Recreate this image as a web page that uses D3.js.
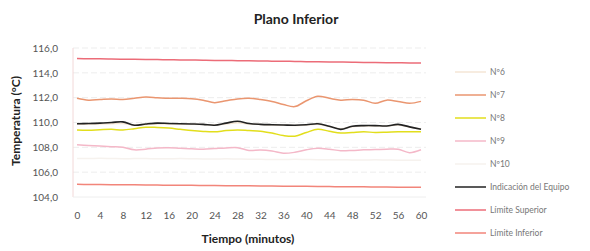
<!DOCTYPE html>
<html>
<head>
<meta charset="utf-8">
<script src="https://cdn.jsdelivr.net/npm/d3@7"></script>
<style>
  body { margin: 0; background: #fff; }
  text { font-family: Lato, "Open Sans", sans-serif; }
</style>
</head>
<body>
<div id="grafico"></div>
<script>
// minutos, cada 2
var minutos = d3.range(0, 61, 2);
var ticksX = [0, 4, 8, 12, 16, 20, 24, 28, 32, 36, 40, 44, 48, 52, 56, 60];
var ticksY = [104, 106, 108, 110, 112, 114, 116];

var n6 = [109.85,109.86,109.88,109.90,109.92,109.80,109.84,109.88,109.88,109.86,109.85,109.83,109.80,109.88,109.98,109.88,109.84,109.80,109.78,109.76,109.80,109.85,109.68,109.50,109.66,109.72,109.72,109.70,109.80,109.62,109.48];
var n7 = [111.95,111.80,111.85,111.90,111.85,111.95,112.05,112.00,111.95,111.95,111.92,111.80,111.60,111.75,111.90,111.95,111.85,111.70,111.45,111.28,111.75,112.12,111.95,111.80,111.85,111.80,111.55,111.80,111.70,111.55,111.70];
var n8 = [109.40,109.38,109.42,109.45,109.40,109.50,109.62,109.60,109.55,109.45,109.35,109.28,109.25,109.35,109.40,109.35,109.30,109.15,108.95,108.90,109.20,109.45,109.30,109.15,109.20,109.25,109.20,109.22,109.25,109.25,109.25];
var n9 = [108.20,108.15,108.10,108.05,108.00,107.80,107.85,107.95,107.97,107.92,107.88,107.85,107.90,107.95,107.97,107.75,107.78,107.70,107.52,107.60,107.80,107.92,107.85,107.73,107.75,107.80,107.82,107.85,107.85,107.57,107.80];
var n10 = [107.10,107.10,107.12,107.10,107.08,107.10,107.10,107.08,107.08,107.10,107.08,107.06,107.06,107.08,107.06,107.04,107.04,107.02,107.02,107.04,107.02,107.00,107.00,107.00,106.98,106.98,107.00,106.98,106.96,106.96,106.96];
var indicacion = [109.90,109.92,109.95,110.00,110.05,109.78,109.88,109.95,109.92,109.90,109.88,109.85,109.78,109.95,110.10,109.92,109.85,109.82,109.80,109.78,109.82,109.90,109.70,109.45,109.70,109.75,109.75,109.72,109.85,109.65,109.45];
var limSup = [115.15,115.14,115.13,115.12,115.10,115.09,115.08,115.07,115.05,115.04,115.03,115.02,115.00,114.99,114.98,114.97,114.95,114.94,114.93,114.92,114.90,114.89,114.88,114.87,114.85,114.84,114.83,114.82,114.81,114.80,114.80];
var limInf = [105.02,105.01,105.00,104.99,104.98,104.98,104.97,104.96,104.95,104.94,104.94,104.93,104.92,104.91,104.90,104.90,104.89,104.88,104.87,104.86,104.86,104.85,104.84,104.83,104.82,104.82,104.81,104.80,104.79,104.78,104.78];

var nombres = ["Nº6", "Nº7", "Nº8", "Nº9", "Nº10", "Indicación del Equipo", "Límite Superior", "Límite Inferior"];
var colores = ["#f4e6d6", "#ea9670", "#e2de1c", "#f4b8c8", "#f6f2ee", "#222222", "#ec6c78", "#f2857a"];
var valores = [n6, n7, n8, n9, n10, indicacion, limSup, limInf];
// orden de dibujo: los claros primero
var orden = [4, 0, 7, 6, 3, 1, 2, 5];

var svg = d3.select("#grafico")
    .append("svg")
    .attr("width", 590)
    .attr("height", 251);

var x = d3.scaleLinear().domain([0, 60]).range([77, 421]);
var y = d3.scaleLinear().domain([104, 116]).range([197, 48]);

// rejilla
svg.selectAll("line.grid")
    .data(ticksY.slice(1))
    .enter().append("line")
    .attr("class", "grid")
    .attr("x1", 73).attr("x2", 426)
    .attr("y1", function(d){ return y(d); })
    .attr("y2", function(d){ return y(d); })
    .attr("stroke", "#ededed")
    .attr("stroke-width", 1)
    .attr("stroke-dasharray", "6,3");

svg.append("line")
    .attr("x1", 73).attr("x2", 73)
    .attr("y1", y(116)).attr("y2", y(104))
    .attr("stroke", "#f2d8d8");
svg.append("line")
    .attr("x1", 73).attr("x2", 426)
    .attr("y1", y(104)).attr("y2", y(104))
    .attr("stroke", "#eeeeee");

// ejes
var ejeY = svg.append("g")
    .attr("transform", "translate(73,0)")
    .call(d3.axisLeft(y).tickValues(ticksY).tickSize(0).tickPadding(15)
        .tickFormat(function(d){ return d3.format(".1f")(d).replace(".", ","); }));
ejeY.select(".domain").remove();
ejeY.selectAll("text").attr("font-size", 10).attr("fill", "#555");

var ejeX = svg.append("g")
    .attr("transform", "translate(0,197)")
    .call(d3.axisBottom(x).tickValues(ticksX).tickSize(0).tickPadding(15));
ejeX.select(".domain").remove();
ejeX.selectAll("text").attr("font-size", 10).attr("fill", "#555");

// series
var linea = d3.line()
    .x(function(d, i){ return x(minutos[i]); })
    .y(function(d){ return y(d); })
    .curve(d3.curveCatmullRom);

orden.forEach(function(k){
    svg.append("path")
        .attr("d", linea(valores[k]))
        .attr("fill", "none")
        .attr("stroke", colores[k])
        .attr("stroke-width", k == 5 ? 1.6 : 1.5);
});

// titulos
svg.append("text")
    .attr("x", 296).attr("y", 24)
    .attr("text-anchor", "middle")
    .attr("font-size", 14).attr("font-weight", "bold").attr("fill", "#222")
    .text("Plano Inferior");

svg.append("text")
    .attr("transform", "translate(20,121) rotate(-90)")
    .attr("text-anchor", "middle")
    .attr("font-size", 12).attr("font-weight", "bold").attr("fill", "#222")
    .text("Temperatura (°C)");

svg.append("text")
    .attr("x", 248).attr("y", 243)
    .attr("text-anchor", "middle")
    .attr("font-size", 12).attr("font-weight", "bold").attr("fill", "#222")
    .text("Tiempo (minutos)");

// leyenda
var ley = svg.selectAll("g.ley")
    .data(nombres)
    .enter().append("g")
    .attr("class", "ley")
    .attr("transform", function(d, i){ return "translate(455," + (72 + i * 23) + ")"; });

ley.append("line")
    .attr("x1", 0).attr("x2", 31)
    .attr("stroke", function(d, i){ return colores[i]; })
    .attr("stroke-width", 1.5);

ley.append("text")
    .attr("x", 35).attr("dy", "0.35em")
    .attr("font-size", 8.5).attr("fill", "#777")
    .text(function(d){ return d; });
</script>
</body>
</html>
